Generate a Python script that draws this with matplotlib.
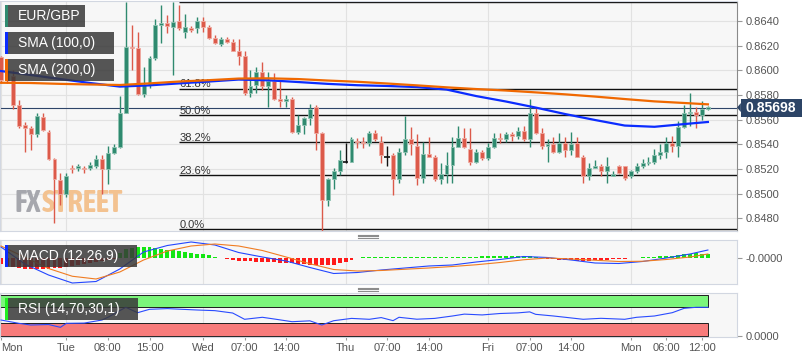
import matplotlib
matplotlib.use("Agg")
import matplotlib.pyplot as plt
from matplotlib.patches import Rectangle, Polygon
from matplotlib.lines import Line2D
from matplotlib.transforms import blended_transform_factory
from matplotlib import font_manager as fm
import numpy as np

plt.rcParams['font.family'] = ['Liberation Sans', 'DejaVu Sans']

# ---------------- data ----------------
opens = [0.8611, 0.8599, 0.8595, 0.8572, 0.8556, 0.8553, 0.8548, 0.8562, 0.8550, 0.8528,
         0.8511, 0.8500, 0.8521, 0.8521, 0.8521, 0.8521, 0.8522, 0.8528, 0.8520, 0.8533,
         0.8538, 0.8565, 0.8619, 0.8618, 0.8581, 0.8588, 0.8610, 0.8637, 0.8638, 0.8635,
         0.8640, 0.8631, 0.8634, 0.8634, 0.8640, 0.8635, 0.8626, 0.8621, 0.8625, 0.8623,
         0.8616, 0.8612, 0.8582, 0.8588, 0.8599, 0.8587, 0.8591, 0.8577, 0.8575, 0.8577,
         0.8550, 0.8556, 0.8561, 0.8570, 0.8549, 0.8495, 0.8512, 0.8518, 0.8526, 0.8526,
         0.8543, 0.8542, 0.8541, 0.8549, 0.8542, 0.8530, 0.8531, 0.8512, 0.8534, 0.8544,
         0.8539, 0.8513, 0.8532, 0.8530, 0.8512, 0.8516, 0.8523, 0.8538, 0.8545, 0.8536,
         0.8526, 0.8534, 0.8529, 0.8538, 0.8545, 0.8544, 0.8548, 0.8547, 0.8551, 0.8544,
         0.8565, 0.8549, 0.8539, 0.8540, 0.8534, 0.8541, 0.8535, 0.8541, 0.8530, 0.8514,
         0.8521, 0.8522, 0.8518, 0.8514, 0.8522, 0.8522, 0.8514, 0.8518, 0.8522, 0.8525,
         0.8526, 0.8531, 0.8534, 0.8541, 0.8539, 0.8554, 0.8565, 0.8566, 0.8564, 0.8569]
highs = [0.8612, 0.8602, 0.8600, 0.8576, 0.8558, 0.8555, 0.8565, 0.8565, 0.8552, 0.8529,
         0.8517, 0.8517, 0.8523, 0.8524, 0.8522, 0.8526, 0.8531, 0.8531, 0.8539, 0.8540,
         0.8579, 0.8655, 0.8637, 0.8631, 0.8603, 0.8612, 0.8642, 0.8653, 0.8645, 0.8655,
         0.8653, 0.8646, 0.8636, 0.8643, 0.8643, 0.8637, 0.8629, 0.8627, 0.8627, 0.8625,
         0.8625, 0.8616, 0.8600, 0.8603, 0.8607, 0.8599, 0.8598, 0.8592, 0.8580, 0.8578,
         0.8564, 0.8562, 0.8573, 0.8572, 0.8550, 0.8513, 0.8521, 0.8535, 0.8541, 0.8546,
         0.8545, 0.8546, 0.8551, 0.8552, 0.8547, 0.8539, 0.8533, 0.8537, 0.8563, 0.8554,
         0.8548, 0.8542, 0.8546, 0.8531, 0.8525, 0.8534, 0.8546, 0.8555, 0.8553, 0.8553,
         0.8536, 0.8535, 0.8541, 0.8549, 0.8549, 0.8550, 0.8550, 0.8554, 0.8555, 0.8577,
         0.8570, 0.8553, 0.8544, 0.8546, 0.8549, 0.8546, 0.8550, 0.8546, 0.8531, 0.8525,
         0.8527, 0.8524, 0.8530, 0.8518, 0.8523, 0.8522, 0.8519, 0.8525, 0.8528, 0.8530,
         0.8536, 0.8540, 0.8546, 0.8547, 0.8559, 0.8572, 0.8582, 0.8570, 0.8575, 0.8571]
lows = [0.8590, 0.8590, 0.8569, 0.8553, 0.8534, 0.8535, 0.8546, 0.8551, 0.8527, 0.8476,
        0.8491, 0.8497, 0.8517, 0.8518, 0.8517, 0.8519, 0.8521, 0.8500, 0.8508, 0.8532,
        0.8537, 0.8565, 0.8600, 0.8580, 0.8578, 0.8586, 0.8608, 0.8622, 0.8630, 0.8596,
        0.8633, 0.8626, 0.8631, 0.8630, 0.8631, 0.8625, 0.8621, 0.8620, 0.8622, 0.8616,
        0.8604, 0.8580, 0.8578, 0.8582, 0.8584, 0.8570, 0.8576, 0.8570, 0.8570, 0.8549,
        0.8548, 0.8548, 0.8556, 0.8535, 0.8470, 0.8490, 0.8504, 0.8515, 0.8525, 0.8526,
        0.8537, 0.8537, 0.8539, 0.8543, 0.8525, 0.8522, 0.8499, 0.8509, 0.8531, 0.8531,
        0.8507, 0.8509, 0.8530, 0.8510, 0.8508, 0.8509, 0.8509, 0.8538, 0.8537, 0.8523,
        0.8525, 0.8527, 0.8527, 0.8537, 0.8541, 0.8542, 0.8543, 0.8544, 0.8543, 0.8538,
        0.8548, 0.8536, 0.8526, 0.8533, 0.8533, 0.8530, 0.8531, 0.8530, 0.8509, 0.8511,
        0.8521, 0.8514, 0.8509, 0.8514, 0.8516, 0.8511, 0.8513, 0.8517, 0.8521, 0.8523,
        0.8524, 0.8528, 0.8529, 0.8534, 0.8530, 0.8553, 0.8555, 0.8553, 0.8560, 0.8568]
closes = [0.8592, 0.8592, 0.8572, 0.8555, 0.8553, 0.8548, 0.8563, 0.8552, 0.8528, 0.8512,
          0.8500, 0.8514, 0.8520, 0.8522, 0.8520, 0.8523, 0.8528, 0.8520, 0.8533, 0.8538,
          0.8565, 0.8619, 0.8618, 0.8581, 0.8588, 0.8610, 0.8637, 0.8638, 0.8636, 0.8639,
          0.8634, 0.8635, 0.8633, 0.8640, 0.8635, 0.8626, 0.8622, 0.8625, 0.8623, 0.8616,
          0.8612, 0.8582, 0.8587, 0.8599, 0.8587, 0.8591, 0.8577, 0.8575, 0.8577, 0.8550,
          0.8556, 0.8561, 0.8569, 0.8549, 0.8495, 0.8512, 0.8518, 0.8527, 0.8526, 0.8544,
          0.8542, 0.8541, 0.8549, 0.8544, 0.8531, 0.8530, 0.8512, 0.8534, 0.8544, 0.8540,
          0.8513, 0.8532, 0.8530, 0.8512, 0.8516, 0.8523, 0.8538, 0.8545, 0.8538, 0.8526,
          0.8534, 0.8529, 0.8538, 0.8545, 0.8544, 0.8548, 0.8547, 0.8551, 0.8544, 0.8565,
          0.8549, 0.8539, 0.8540, 0.8534, 0.8541, 0.8535, 0.8540, 0.8530, 0.8514, 0.8521,
          0.8522, 0.8518, 0.8522, 0.8516, 0.8517, 0.8513, 0.8518, 0.8522, 0.8525, 0.8526,
          0.8531, 0.8534, 0.8541, 0.8539, 0.8554, 0.8565, 0.8566, 0.8564, 0.8569, 0.8570]
last_price = 0.85698

sma_idx = [0, 5, 10, 15, 20, 25, 30, 35, 40, 45, 50, 55, 60, 65, 70, 75, 80, 85, 90, 95,
           100, 105, 110, 115, 119]
sma100 = [0.85994, 0.85962, 0.85929, 0.85897, 0.85868, 0.85878, 0.85894, 0.85909, 0.85925,
          0.85919, 0.85905, 0.85890, 0.85879, 0.85873, 0.85864, 0.85844, 0.85791, 0.85747,
          0.85698, 0.85645, 0.85597, 0.85552, 0.85542, 0.85564, 0.85581]
sma200 = [0.85899, 0.85897, 0.85890, 0.85885, 0.85881, 0.85894, 0.85909, 0.85920, 0.85933,
          0.85935, 0.85929, 0.85917, 0.85907, 0.85893, 0.85878, 0.85862, 0.85848, 0.85836,
          0.85821, 0.85805, 0.85787, 0.85767, 0.85748, 0.85735, 0.85724]

fib_high = 0.86555
fib_low = 0.84713
fib_start = 30
fib_ratios = [0.0, 0.236, 0.382, 0.5, 0.618, 1.0]
fib_labels = ['0.0%', '23.6%', '38.2%', '50.0%', '61.8%', '100.0%']

macd_idx = [0, 4, 8, 12, 16, 20, 24, 28, 32, 36, 40, 44, 48, 52, 56, 60, 64, 68, 72, 76,
            80, 84, 88, 92, 96, 100, 104, 108, 112, 116, 119]
macd_line = [0.00044, -0.00024, -0.00068, -0.00100, -0.00094, -0.00044, 0.00024, 0.00050,
             0.00064, 0.00052, 0.00022, 0.00004, -0.00012, -0.00038, -0.00062, -0.00058,
             -0.00048, -0.00040, -0.00032, -0.00028, -0.00016, -0.00006, 0.00006, 0.00002,
             -0.00008, -0.00020, -0.00022, -0.00014, 0.00000, 0.00016, 0.00032]
signal_line = [0.00048, 0.00003, -0.00042, -0.00073, -0.00084, -0.00056, -0.00008, 0.00028,
               0.00048, 0.00056, 0.00048, 0.00030, 0.00004, -0.00023, -0.00046, -0.00052,
               -0.00050, -0.00045, -0.00040, -0.00034, -0.00027, -0.00018, -0.00007, 0.00000,
               -0.00004, -0.00009, -0.00014, -0.00013, -0.00006, 0.00004, 0.00016]
macd_hist = [-0.00024, -0.00032, -0.00036, -0.00040, -0.00044, -0.00044, -0.00044, -0.00044, -0.00044, -0.00040,
             -0.00040, -0.00036, -0.00032, -0.00028, -0.00024, -0.00020, -0.00016, -0.00012, -0.00008, -0.00004,
             0.00020, 0.00036, 0.00040, 0.00044, 0.00044, 0.00044, 0.00040, 0.00036, 0.00034, 0.00032,
             0.00028, 0.00024, 0.00022, 0.00018, 0.00016, 0.00012, 0.00006, 0.00002, -0.00004, -0.00008,
             -0.00010, -0.00012, -0.00012, -0.00014, -0.00014, -0.00014, -0.00016, -0.00018, -0.00020, -0.00020,
             -0.00022, -0.00024, -0.00026, -0.00028, -0.00028, -0.00028, -0.00026, -0.00020, -0.00014, -0.00006,
             0.00002, 0.00003, 0.00004, 0.00004, 0.00004, 0.00004, 0.00004, 0.00004, 0.00004, 0.00005,
             0.00005, 0.00005, 0.00005, 0.00005, 0.00005, 0.00005, 0.00006, 0.00006, 0.00006, 0.00006,
             0.00006, 0.00008, 0.00008, 0.00008, 0.00008, 0.00008, 0.00010, 0.00010, 0.00010, 0.00010,
             0.00006, 0.00002, -0.00002, -0.00004, -0.00006, -0.00008, -0.00008, -0.00010, -0.00010, -0.00010,
             -0.00008, -0.00008, -0.00006, -0.00004, -0.00003, -0.00002, 0.00001, 0.00002, 0.00003, 0.00004,
             0.00005, 0.00007, 0.00008, 0.00010, 0.00012, 0.00016, 0.00018, 0.00020, 0.00018, 0.00018]

rsi_idx = [0, 3, 5, 8, 10, 11, 14, 17, 18, 21, 23, 25, 28, 33, 36, 39, 41, 44, 46, 49, 52, 54,
           56, 59, 62, 64, 66, 67, 70, 73, 76, 78, 81, 84, 87, 89, 90, 93, 95, 98, 101, 105,
           107, 110, 113, 115, 117, 119]
rsi_vals = [38.0, 29.9, 25.8, 27.0, 20.1, 29.9, 30.5, 38.0, 44.7, 69.2, 56.0, 64.3, 66.0, 62.6,
            61.0, 55.2, 39.8, 44.7, 40.5, 33.9, 36.0, 25.8, 36.3, 42.0, 39.8, 44.0, 36.5, 44.7,
            40.0, 42.0, 47.9, 52.5, 50.5, 54.0, 55.5, 58.0, 52.0, 47.9, 44.7, 39.8, 42.2, 39.8,
            44.7, 47.9, 56.0, 66.7, 69.2, 69.2]
rsi_upper, rsi_lower = 70, 30

price_ticks = [0.8480, 0.8500, 0.8520, 0.8540, 0.8560, 0.8580, 0.8600, 0.8620, 0.8640]
tick_pos = [0, 11, 18, 25, 34, 41, 48, 58, 65, 72, 82, 89, 96, 106, 112, 118]
tick_lab = ['Mon', 'Tue', '08:00', '15:00', 'Wed', '07:00', '14:00', 'Thu', '07:00', '14:00',
            'Fri', '07:00', '14:00', 'Mon', '06:00', '12:00']

# ---------------- figure ----------------
W, H = 808, 363
fig = plt.figure(figsize=(W / 100, H / 100), dpi=100)
fig.patch.set_facecolor('white')


def add_ax(x0, y0, x1, y1):
    return fig.add_axes([x0 / W, 1 - y1 / H, (x1 - x0) / W, (y1 - y0) / H])


ax = add_ax(0, 1, 737, 230.5)
axm = add_ax(0, 240, 737, 284)
axr = add_ax(0, 293, 737, 336.7)

PANEL = '#f7f7f7'
GRID = '#e2e2e2'
BORDER = '#d2d7e1'
TXT = '#555555'
xlim = (-0.17, 123.9)
day_pos = [p for p, l in zip(tick_pos, tick_lab) if ':' not in l]

n = len(opens)
idx = np.arange(n)
o, hi, lo, c = (np.array(a) for a in (opens, highs, lows, closes))

# ---- main price panel ----
ax.set_facecolor(PANEL)
ax.set_xlim(*xlim)
ax.set_ylim(0.84701, 0.86562)
for v in price_ticks:
    ax.axhline(v, color=GRID, lw=0.8, zorder=0)
for p in day_pos:
    ax.axvline(p, color=GRID, lw=0.8, zorder=0)
ax.yaxis.tick_right()
ax.set_yticks(price_ticks)
ax.set_yticklabels([f'{v:.4f}' for v in price_ticks])
ax.tick_params(axis='y', length=3.6, width=0.8, color='#999999', labelsize=8,
               labelcolor=TXT, pad=2.6)
ax.set_xticks([])
for s in ax.spines.values():
    s.set_color(BORDER)
    s.set_linewidth(0.8)
ax.spines['right'].set_color('#8a8a8a')


# watermark (condensed bold face if one is installed)
def condensed_bold_font():
    best = None
    rank = {'condensed': 0, 'semi-condensed': 1}
    wmap = {'bold': 700, 'heavy': 900, 'black': 900, 'semibold': 600, 'demibold': 600,
            'extra bold': 800, 'ultrabold': 800, 'demi': 600}
    for f in fm.fontManager.ttflist:
        st = str(f.stretch)
        w = f.weight if isinstance(f.weight, int) else wmap.get(str(f.weight).lower(), 400)
        if st in rank and w >= 600 and f.style == 'normal' and f.fname.lower().endswith(('.ttf', '.otf')):
            key = (rank[st], abs(w - 700), f.name)
            if best is None or key < best[0]:
                best = (key, f.fname)
    if best:
        return fm.FontProperties(fname=best[1])
    return fm.FontProperties(family='Liberation Sans', weight='bold')


wm_fp = condensed_bold_font()
wm_x, wm_y = 15 / W, 1 - 212 / H
fx = ax.text(wm_x, wm_y, 'FX', transform=fig.transFigure, fontproperties=wm_fp,
             fontsize=10, color='#a6a7ad', va='baseline', ha='left', zorder=0.5)
st = ax.text(wm_x, wm_y, 'STREET', transform=fig.transFigure, fontproperties=wm_fp,
             fontsize=10, color='#f3c290', va='baseline', ha='left', zorder=0.5)
rend = fig.canvas.get_renderer()
w_total = fx.get_window_extent(rend).width + st.get_window_extent(rend).width
wm_size = min(10 * 108 / w_total, 29)
fx.set_fontsize(wm_size)
st.set_fontsize(wm_size)
st.set_position((wm_x + (fx.get_window_extent(rend).width + 0.5) / W, wm_y))

GREEN, RED = '#2f8a6f', '#dc5a4a'
up, dn, fl = c > o, c < o, c == o
for mask, col, ec in ((up, GREEN, '#8fc3b2'), (dn, RED, '#efa9a0')):
    ax.vlines(idx[mask], lo[mask], hi[mask], color=col, lw=1.0, zorder=3)
    ax.bar(idx[mask], np.abs(c - o)[mask], bottom=np.minimum(o, c)[mask], width=0.66,
           color=col, edgecolor=ec, linewidth=0.6, zorder=4)
ax.vlines(idx[fl], lo[fl], hi[fl], color='#111111', lw=1.0, zorder=3)
ax.hlines(c[fl], idx[fl] - 0.45, idx[fl] + 0.45, color='#111111', lw=1.2, zorder=4)

# fibonacci retracement
rng = fib_high - fib_low
for r, lab in zip(fib_ratios, fib_labels):
    lvl = fib_low + r * rng
    ax.hlines(lvl, fib_start, xlim[1], color='#111111', lw=1.0, zorder=2)
    if r < 1:
        ax.annotate(lab, (fib_start, lvl), xytext=(0.3, 1.0), textcoords='offset points',
                    fontsize=8, color='#333333', va='baseline', ha='left', zorder=2)

# current price line
ax.axhline(last_price, color='#2e4569', lw=0.8, zorder=2)

# moving averages
ax.plot(sma_idx, sma100, color='#0b2cff', lw=1.6, zorder=5)
ax.plot(sma_idx, sma200, color='#f06800', lw=1.6, zorder=5)

# price label
ax_h_px = ax.get_position().height * H
ax_w_px = ax.get_position().width * W
dpp = (ax.get_ylim()[1] - ax.get_ylim()[0]) / ax_h_px
bt = blended_transform_factory(ax.transAxes, ax.transData)
NAVY = '#2c4466'
bx0 = 1 + 3.5 / ax_w_px
ax.add_patch(Rectangle((bx0, last_price - 9 * dpp), 61 / ax_w_px, 18 * dpp, transform=bt,
                       fc=NAVY, ec='none', clip_on=False, zorder=6))
ax.add_patch(Polygon([(1.0, last_price), (bx0 + 0.0005, last_price + 4.5 * dpp),
                      (bx0 + 0.0005, last_price - 4.5 * dpp)], closed=True, transform=bt,
                     fc=NAVY, ec='none', clip_on=False, zorder=6))
ax.text(bx0 + 30.5 / ax_w_px, last_price, f'{last_price:.5f}', transform=bt, color='white',
        fontsize=10, fontweight='bold', ha='center', va='center', zorder=7, clip_on=False)

# ---- MACD panel ----
axm.set_facecolor(PANEL)
axm.set_xlim(*xlim)
axm.set_ylim(-0.00104, 0.00072)
for p in day_pos:
    axm.axvline(p, color=GRID, lw=0.8, zorder=0)
hist = np.array(macd_hist)
axm.bar(idx, hist, width=0.66, color=np.where(hist >= 0, '#13e613', '#ff1a1a'), zorder=2)
axm.plot(macd_idx, macd_line, color='#2346ff', lw=0.8, zorder=3)
axm.plot(macd_idx, signal_line, color='#f07c22', lw=0.8, zorder=3)
axm.yaxis.tick_right()
axm.set_yticks([0])
axm.set_yticklabels(['-0.0000'])
axm.tick_params(axis='y', length=3.6, width=0.8, color='#999999', labelsize=8,
                labelcolor=TXT, pad=2.6)
axm.set_xticks([])
for s in axm.spines.values():
    s.set_color(BORDER)
    s.set_linewidth(0.8)

# ---- RSI panel ----
axr.set_facecolor(PANEL)
axr.set_xlim(*xlim)
axr.set_ylim(-2.9, 104.3)
for p in day_pos:
    axr.axvline(p, color=GRID, lw=0.8, zorder=0)
band_w = idx[-1] - xlim[0]
axr.add_patch(Rectangle((xlim[0], rsi_upper), band_w, 100 - rsi_upper, fc='#7bf57b',
                        ec='#1e1e1e', lw=0.7, zorder=1))
axr.add_patch(Rectangle((xlim[0], 0), band_w, rsi_lower, fc='#f77b7b',
                        ec='#1e1e1e', lw=0.7, zorder=1))
axr.plot(rsi_idx, rsi_vals, color='#2a4bff', lw=0.8, zorder=3)
axr.yaxis.tick_right()
axr.set_yticks([0])
axr.set_yticklabels(['0.0000'])
axr.tick_params(axis='y', length=3.6, width=0.8, color='#999999', labelsize=8,
                labelcolor=TXT, pad=2.6)
axr.set_xticks(tick_pos)
axr.set_xticklabels(tick_lab)
axr.tick_params(axis='x', length=2.2, width=0.8, color='#999999', labelsize=8,
                labelcolor=TXT, pad=2.6)
axr.get_xticklabels()[0].set_ha('left')
for s in axr.spines.values():
    s.set_color(BORDER)
    s.set_linewidth(0.8)


# ---- legend boxes ----
def legend_box(x0, y0, x1, y1, color, text):
    fig.add_artist(Rectangle((x0 / W, 1 - y1 / H), (x1 - x0) / W, (y1 - y0) / H,
                             transform=fig.transFigure, fc='#383838', alpha=0.85, ec='none'))
    fig.add_artist(Rectangle((x0 / W, 1 - y1 / H), 2.5 / W, (y1 - y0) / H,
                             transform=fig.transFigure, fc=color, ec='none'))
    fig.text((x0 + 13) / W, 1 - (y0 + y1) / 2 / H, text, color='white', fontsize=10,
             va='center', ha='left')


legend_box(5, 5, 85, 27, GREEN, 'EUR/GBP')
legend_box(5, 32, 114, 54, '#0b2cff', 'SMA (100,0)')
legend_box(5, 59, 114, 81, '#f06800', 'SMA (200,0)')
legend_box(5, 245, 137, 267, '#0b2cff', 'MACD (12,26,9)')
legend_box(5, 298, 138, 320, '#22ee22', 'RSI (14,70,30,1)')

# panel resize handles
for yy in (234.7, 236.3, 238.0, 287.7, 289.3, 291.0):
    fig.add_artist(Line2D([358 / W, 378 / W], [1 - yy / H] * 2, transform=fig.transFigure,
                          color='#8c8c8c', lw=0.8))

fig.savefig('out.png', dpi=100, facecolor='white')
